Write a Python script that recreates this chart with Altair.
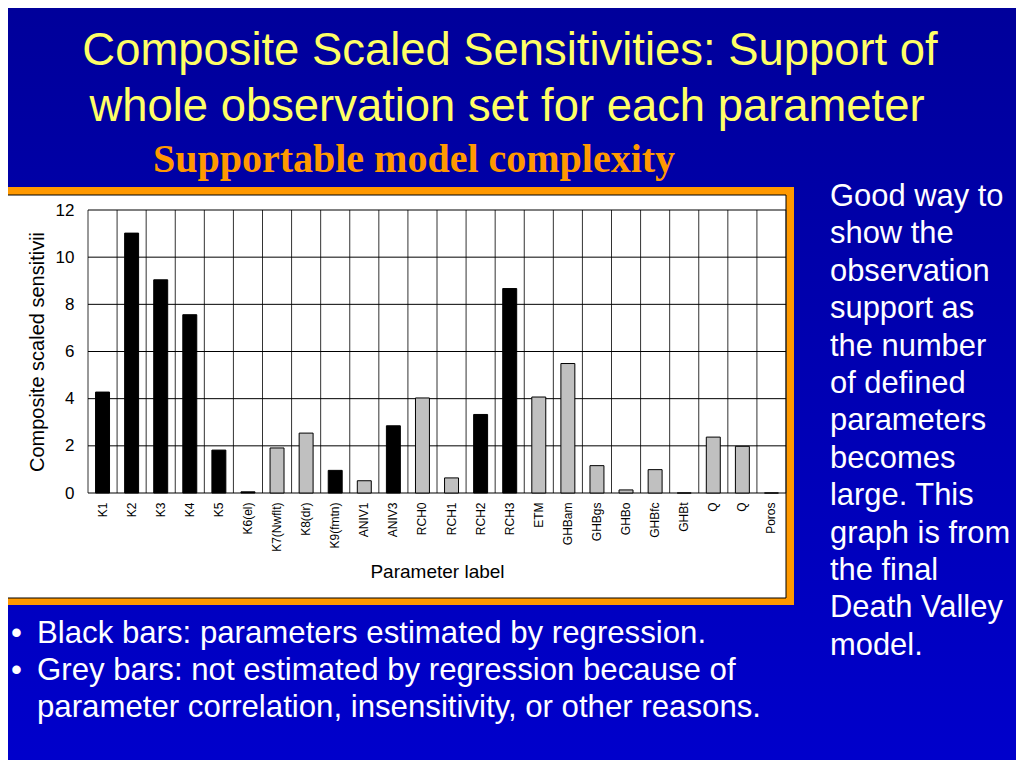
import json
import altair as alt
import pandas as pd

# ---------------- data ----------------
labels = ["K1", "K2", "K3", "K4", "K5", "K6(el)", "K7(Nwflt)", "K8(dr)", "K9(fmtn)",
          "ANIV1", "ANIV3", "RCH0", "RCH1", "RCH2", "RCH3", "ETM", "GHBam", "GHBgs",
          "GHBo", "GHBfc", "GHBt", "Q", "Q", "Poros"]
values = [4.28, 11.02, 9.04, 7.56, 1.82, 0.05, 1.91, 2.54, 0.96,
          0.52, 2.85, 4.03, 0.64, 3.33, 8.67, 4.07, 5.49, 1.16,
          0.13, 0.99, 0.0, 2.37, 1.98, 0.0]
estimated = ["yes", "yes", "yes", "yes", "yes", "yes", "no", "no", "yes",
             "no", "yes", "no", "no", "yes", "yes", "no", "no", "no",
             "no", "no", "no", "no", "no", "no"]
y_ticks = [0, 2, 4, 6, 8, 10, 12]

title_line1 = "Composite Scaled Sensitivities: Support of"
title_line2 = "whole observation set for each parameter"
subtitle = "Supportable model complexity"
side_text = ["Good way to", "show the", "observation", "support as", "the number",
             "of defined", "parameters", "becomes", "large. This", "graph is from",
             "the final", "Death Valley", "model."]
bullets = ["Black bars: parameters estimated by regression.",
           "Grey bars: not estimated by regression because of",
           "parameter correlation, insensitivity, or other reasons."]

df = pd.DataFrame({"idx": list(range(len(labels))), "label": labels,
                   "value": values, "est": estimated})
grid_x = pd.DataFrame({"k": list(range(len(labels) + 1))})
grid_y = pd.DataFrame({"v": y_ticks})
one = pd.DataFrame({"a": [0]})

SANS = "Liberation Sans"
SERIF = "Liberation Serif"
W, H = 698, 283

# ---------------- decoration ----------------
slide_bg = alt.Chart(one).mark_rect(
    color=alt.Gradient(gradient="linear",
                       stops=[alt.GradientStop(color="#00009A", offset=0),
                              alt.GradientStop(color="#0000CC", offset=1)],
                       x1=0, x2=0, y1=0, y2=1)
).encode(x=alt.value(-90), x2=alt.value(940), y=alt.value(-210), y2=alt.value(560))

orange_box = alt.Chart(one).mark_rect(color="#FF9900").encode(
    x=alt.value(-88), x2=alt.value(706), y=alt.value(-23), y2=alt.value(395))
white_box = alt.Chart(one).mark_rect(color="white", stroke="black", strokeWidth=1).encode(
    x=alt.value(-81), x2=alt.value(698), y=alt.value(-15), y2=alt.value(388))

vgrid = alt.Chart(grid_x).mark_rule(color="#333333", strokeWidth=1).encode(
    x=alt.X("k:Q", scale=alt.Scale(domain=[0, len(labels)], nice=False, zero=False), axis=None))
hgrid = alt.Chart(grid_y).mark_rule(color="black", strokeWidth=1).encode(
    y=alt.Y("v:Q", scale=alt.Scale(domain=[0, 12], nice=False), axis=None))

label_expr = json.dumps(labels) + "[datum.value]"

bars = alt.Chart(df).mark_bar(stroke="black", strokeWidth=1).encode(
    x=alt.X("idx:O",
            scale=alt.Scale(paddingInner=0.52, paddingOuter=0.26),
            axis=alt.Axis(labelExpr=label_expr, labelAngle=270, labelFontSize=12,
                          labelPadding=9, ticks=False, domain=False, grid=False,
                          labelColor="black", labelFont=SANS, zindex=2,
                          title="Parameter label", titleFont=SANS, titleFontSize=19,
                          titleFontWeight="normal", titleColor="black", titlePadding=11)),
    y=alt.Y("value:Q",
            scale=alt.Scale(domain=[0, 12], nice=False),
            axis=alt.Axis(values=y_ticks, ticks=False, domain=False, grid=False,
                          labelFontSize=17, labelPadding=14, labelColor="black",
                          labelFont=SANS, zindex=2,
                          title="Composite scaled sensitivii", titleFont=SANS,
                          titleFontSize=20, titleFontWeight="normal",
                          titleColor="black", titlePadding=8)),
    color=alt.Color("est:N", scale=alt.Scale(domain=["yes", "no"],
                                             range=["black", "#C0C0C0"]), legend=None),
)


def text_layer(txt, x, y, size, color, font, align="left", weight="normal", lh=None):
    kw = dict(text=txt, align=align, baseline="alphabetic", fontSize=size,
              color=color, font=font, fontWeight=weight)
    if lh is not None:
        kw["lineHeight"] = lh
    return alt.Chart(one).mark_text(**kw).encode(x=alt.value(x), y=alt.value(y))


t1 = text_layer(title_line1, 422, -145, 45.4, "#FFFF66", SANS, align="center")
t2 = text_layer(title_line2, 419, -89, 45.4, "#FFFF66", SANS, align="center")
t3 = text_layer(subtitle, 326, -38, 40, "#FF9900", SERIF, align="center", weight="bold")
side = text_layer(side_text, 742, -4, 30.9, "white", SANS, lh=37.4)

bullet_layers = []
b_y = [433, 470, 507]
for i, line in enumerate(bullets):
    bullet_layers.append(text_layer(line, -51, b_y[i], 31.2, "white", SANS))
    if i < 2:
        bullet_layers.append(text_layer("\u2022", -77, b_y[i], 31.2, "white", SANS))

chart = alt.layer(slide_bg, orange_box, white_box, vgrid, hgrid, bars, t1, t2, t3, side,
                  *bullet_layers).resolve_scale(x="independent").resolve_axis(
    x="independent", y="independent").properties(
    width=W, height=H,
    padding={"left": 80, "top": 202, "right": 230, "bottom": 267},
    autosize=alt.AutoSizeParams(type="none"),
).configure(background="#0000B0").configure_view(stroke=None)

chart.save("out.html", embed_options={"renderer": "svg", "actions": False})
